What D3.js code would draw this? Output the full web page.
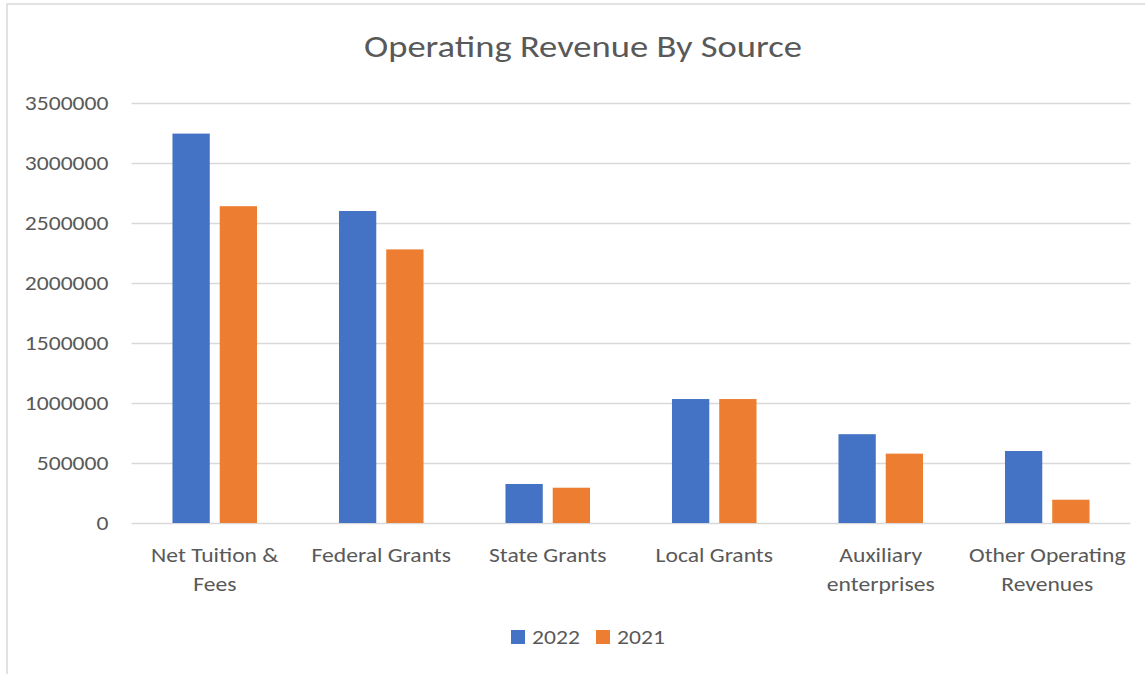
<!DOCTYPE html>
<html>
<head>
<meta charset="utf-8">
<script src="https://cdn.jsdelivr.net/npm/d3@7"></script>
<style>
  html, body { margin: 0; padding: 0; background: #fff; }
  svg { display: block; }
  text { font-family: Carlito, Lato, "Open Sans", sans-serif; fill: #595959; }
</style>
</head>
<body>
<svg id="chart" width="1145" height="674"></svg>
<script>
// ---- data ----
const categories = ["Net Tuition & Fees", "Federal Grants", "State Grants", "Local Grants", "Auxiliary enterprises", "Other Operating Revenues"];
const seriesNames = ["2022", "2021"];
const values2022 = [3245000, 2600000, 325000, 1033000, 740000, 600000];
const values2021 = [2640000, 2280000, 294000, 1033000, 578000, 194000];
const yTicks = [0, 500000, 1000000, 1500000, 2000000, 2500000, 3000000, 3500000];
const seriesColors = ["#4472C4", "#ED7D31"];
const title = "Operating Revenue By Source";

const seriesValues = [values2022, values2021];
const rows = categories.map((c, i) => ({
  category: c,
  values: seriesNames.map((s, j) => ({ series: s, value: seriesValues[j][i] }))
}));

// ---- layout ----
const svg = d3.select("#chart");
const W = 1145, H = 674;
const plot = { left: 131.5, right: 1130.5, top: 103, bottom: 523 };
const STRETCH = 1.18;

// widen glyphs horizontally like the reference rendering
function stretch(sel) {
  sel.each(function() {
    const n = this;
    const len = n.getComputedTextLength();
    if (len > 0) {
      d3.select(n).attr("textLength", len * STRETCH).attr("lengthAdjust", "spacingAndGlyphs");
    }
  });
}

// frame
svg.append("rect")
  .attr("x", 7).attr("y", 4)
  .attr("width", W + 20).attr("height", H + 20)
  .attr("fill", "#fff")
  .attr("stroke", "#d9d9d9").attr("stroke-width", 1.5);

// title
svg.append("text")
  .attr("x", 583).attr("y", 57)
  .attr("text-anchor", "middle")
  .style("font-size", "31px")
  .text(title)
  .call(stretch);

const x0 = d3.scaleBand().domain(categories).range([plot.left, plot.right]).padding(0);
const x1 = d3.scaleBand().domain(seriesNames).range([0, x0.bandwidth()])
  .paddingInner(0.211).paddingOuter(0.867);
const y = d3.scaleLinear().domain([0, 3500000]).range([plot.bottom, plot.top]);
const color = d3.scaleOrdinal().domain(seriesNames).range(seriesColors);

// gridlines
svg.append("g")
  .attr("transform", `translate(${plot.left},0)`)
  .call(d3.axisLeft(y).tickValues(yTicks).tickSize(-(plot.right - plot.left)).tickFormat(""))
  .call(g => g.select(".domain").remove())
  .call(g => g.selectAll("line").attr("stroke", "#d9d9d9").attr("stroke-width", 1.3));

// y labels
const yAxis = svg.append("g")
  .attr("transform", `translate(${plot.left},0)`)
  .call(d3.axisLeft(y).tickValues(yTicks).tickSize(0).tickPadding(23).tickFormat(d3.format("d")));
yAxis.select(".domain").remove();
yAxis.selectAll("text").style("font-size", "20px").attr("fill", "#595959")
  .style("font-family", "Carlito, Lato, 'Open Sans', sans-serif")
  .call(stretch);

// bars
svg.append("g").selectAll("g")
  .data(rows)
  .join("g")
  .attr("transform", d => `translate(${x0(d.category)},0)`)
  .selectAll("rect")
  .data(d => d.values)
  .join("rect")
  .attr("x", d => x1(d.series))
  .attr("width", x1.bandwidth())
  .attr("y", d => y(d.value))
  .attr("height", d => y(0) - y(d.value))
  .attr("fill", d => color(d.series));

// x axis (category labels)
const xAxis = svg.append("g")
  .attr("transform", `translate(0,${plot.bottom})`)
  .call(d3.axisBottom(x0).tickSize(0).tickPadding(0));
xAxis.select(".domain").remove();
xAxis.selectAll("text").remove();
xAxis.selectAll(".tick").each(function(d) {
  const t = d3.select(this).append("text")
    .attr("text-anchor", "middle")
    .style("font-size", "20px")
    .attr("fill", "#595959");
  const words = d.split(" ");
  const maxW = 165;
  let lines = [], line = [];
  const probe = t.append("tspan");
  words.forEach(w => {
    const test = line.concat([w]).join(" ");
    probe.text(test);
    if (probe.node().getComputedTextLength() * STRETCH > maxW && line.length) {
      lines.push(line.join(" "));
      line = [w];
    } else {
      line.push(w);
    }
  });
  lines.push(line.join(" "));
  probe.remove();
  t.remove();
  lines.forEach((ln, i) => {
    d3.select(this).append("text")
      .attr("text-anchor", "middle")
      .style("font-size", "20px")
      .attr("fill", "#595959")
      .attr("x", 0).attr("y", 39 + i * 29)
      .text(ln)
      .call(stretch);
  });
});

// legend
const legend = svg.append("g").attr("transform", "translate(511,630)");
const legendOffsets = [0, 85];
seriesNames.forEach((s, i) => {
  const g = legend.append("g").attr("transform", `translate(${legendOffsets[i]},0)`);
  g.append("rect").attr("width", 14).attr("height", 14).attr("fill", color(s));
  g.append("text").attr("x", 21).attr("y", 14).style("font-size", "20px").text(s).call(stretch);
});
</script>
</body>
</html>
